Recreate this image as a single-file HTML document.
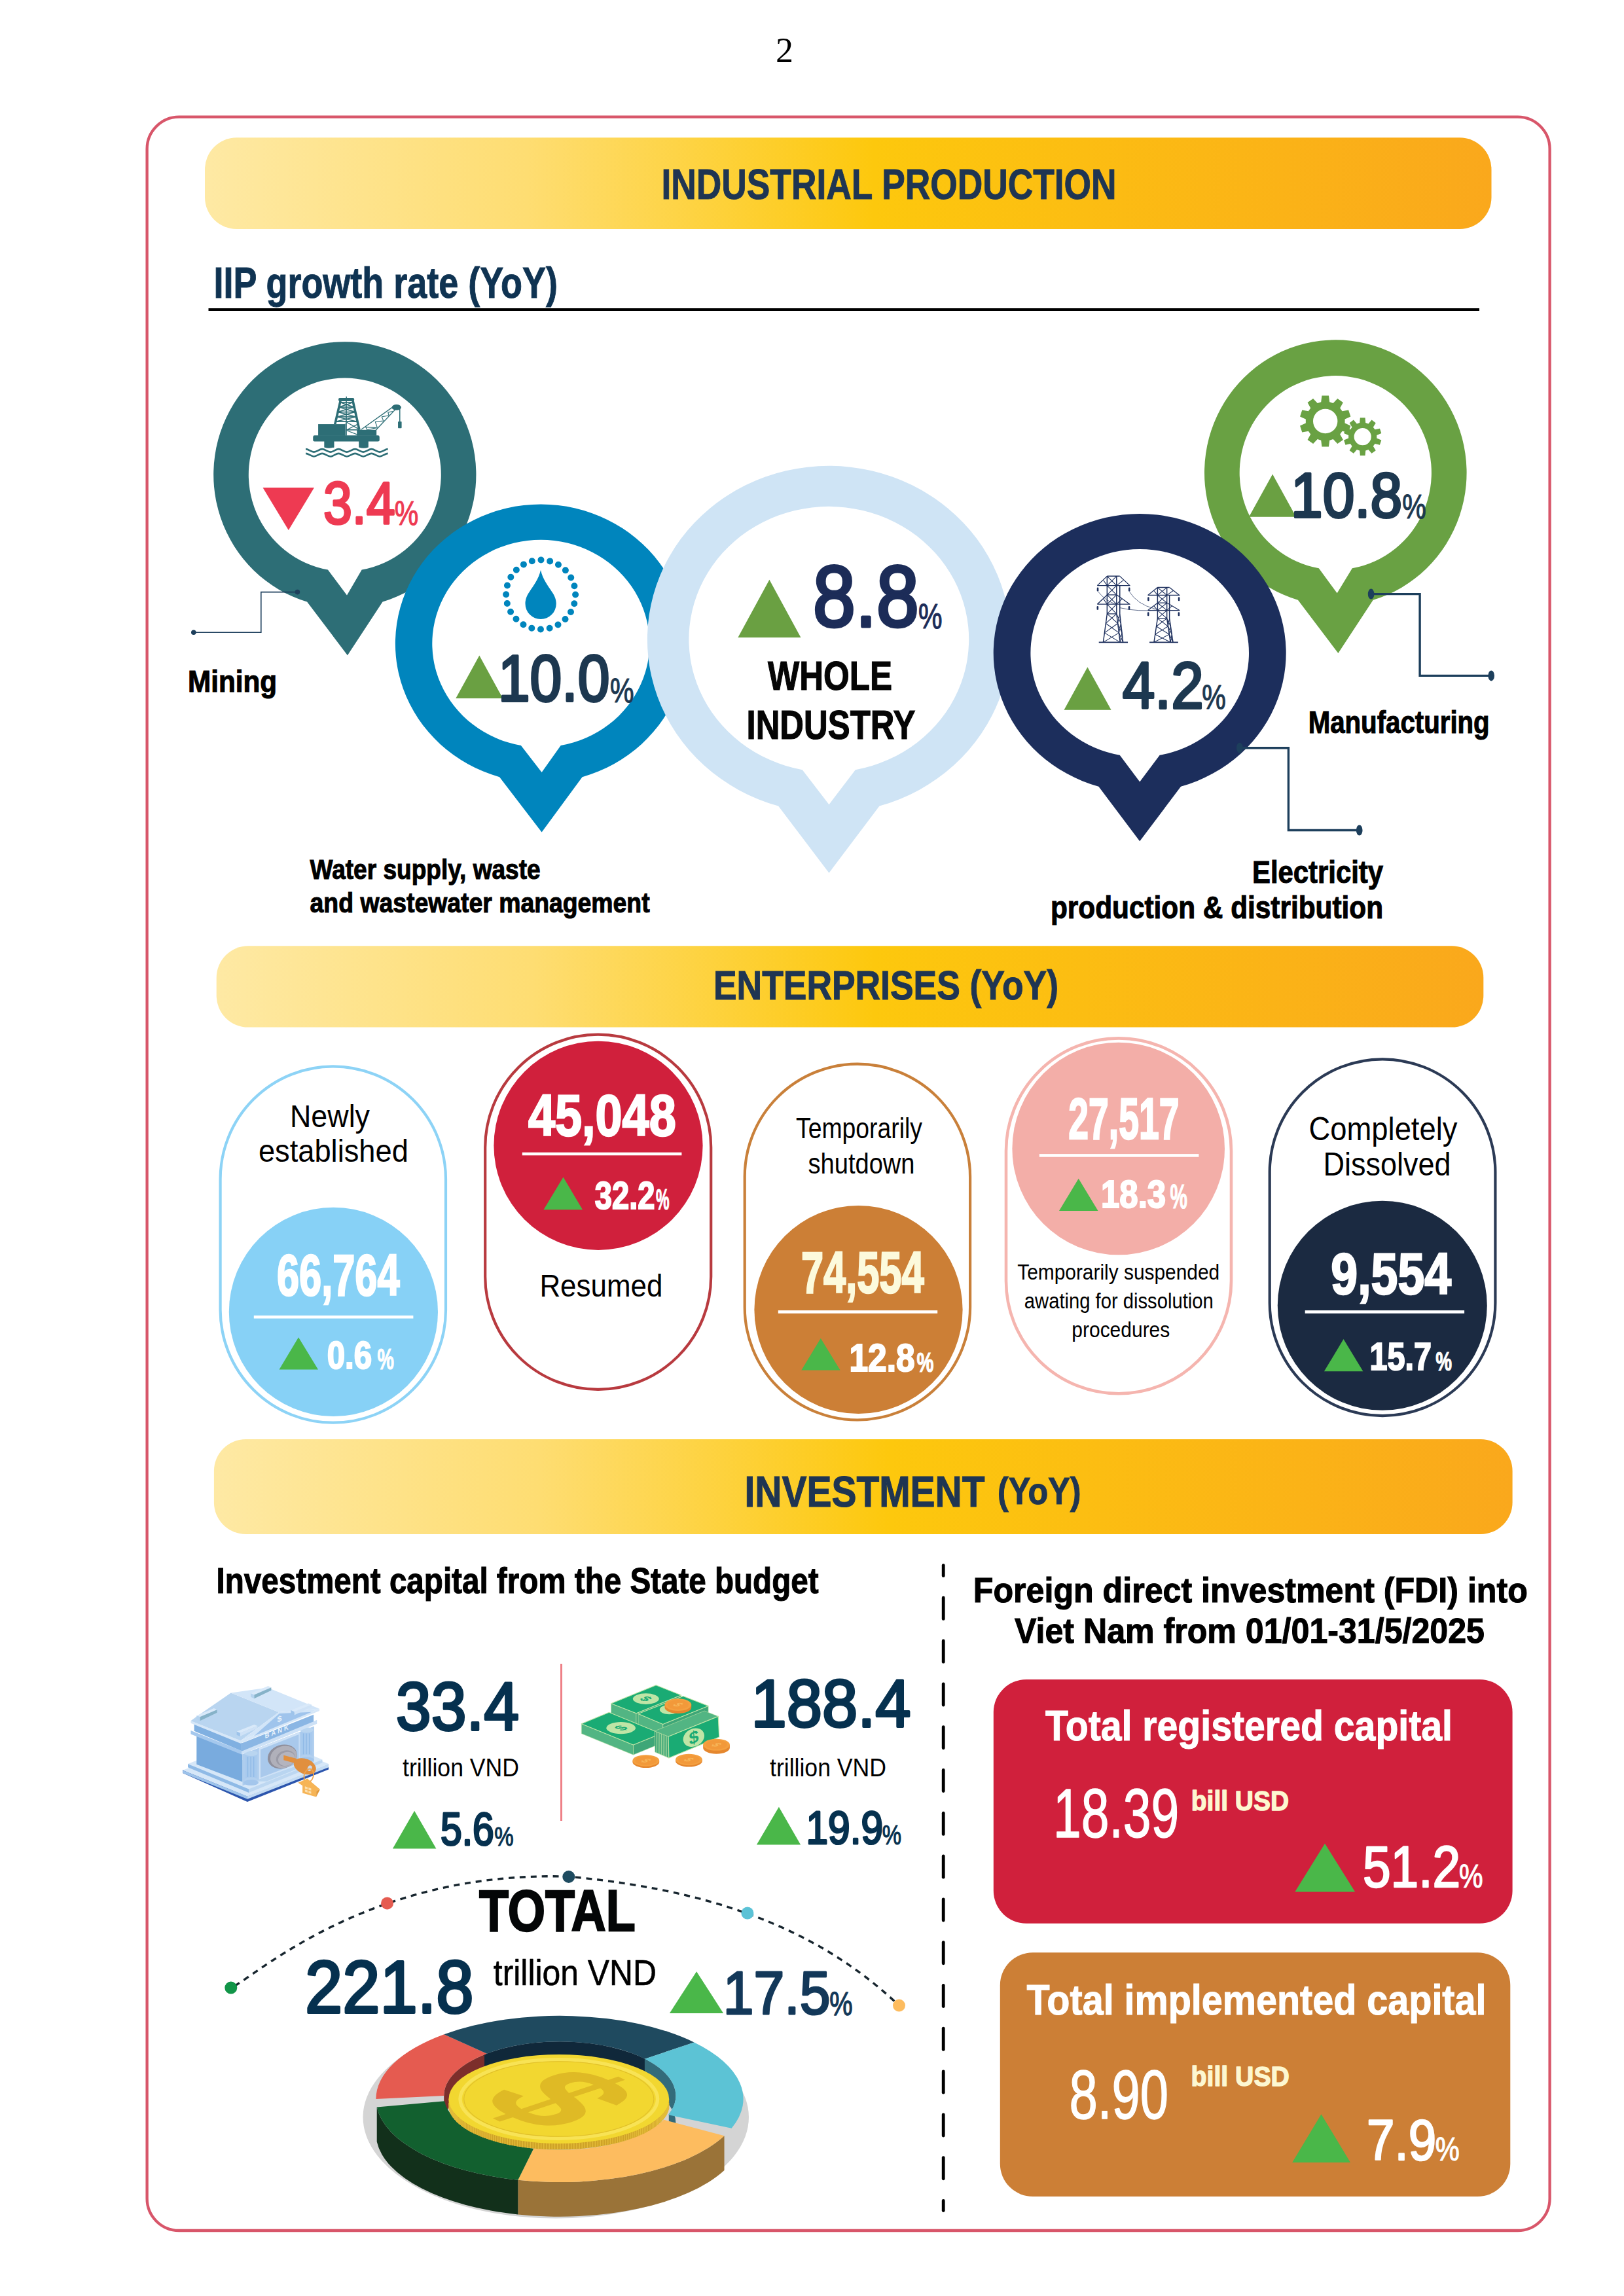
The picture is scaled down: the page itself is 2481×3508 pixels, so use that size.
<!DOCTYPE html>
<html lang="en">
<head>
<meta charset="utf-8">
<title>Industrial production, enterprises, investment</title>
<style>
html,body{margin:0;padding:0;background:#fff;}
body{width:2481px;height:3508px;overflow:hidden;}
svg{display:block;font-family:"Liberation Sans",sans-serif;}
.serif{font-family:"Liberation Serif",serif;}
</style>
</head>
<body>
<svg width="2481" height="3508" viewBox="0 0 2481 3508">
<defs>
<linearGradient id="bg" x1="0" y1="0" x2="1" y2="0">
<stop offset="0" stop-color="#fee9a4"/>
<stop offset="0.25" stop-color="#fedd72"/>
<stop offset="0.52" stop-color="#fdc80d"/>
<stop offset="1" stop-color="#faa81c"/>
</linearGradient>
</defs>
<text class="serif" x="1198.5" y="94.8" font-size="54" text-anchor="middle" fill="#000">2</text>
<rect x="224.6" y="178.6" width="2143" height="3229.4" rx="49" ry="49" fill="none" stroke="#d8566a" stroke-width="4.3"/>
<rect x="313" y="210.3" width="1965.5" height="139.6" rx="48.5" ry="48.5" fill="url(#bg)"/>
<text x="1358.0" y="304.2" font-size="65" font-weight="bold" fill="#1f3552" text-anchor="middle" textLength="695.0" lengthAdjust="spacingAndGlyphs" stroke="#1f3552" stroke-width="1">INDUSTRIAL PRODUCTION</text>
<text x="326.5" y="455.3" font-size="66" font-weight="bold" fill="#0f3352" text-anchor="start" textLength="525.5" lengthAdjust="spacingAndGlyphs" stroke="#0f3352" stroke-width="1">IIP growth rate (YoY)</text>
<rect x="318.5" y="471" width="1941.5" height="4" fill="#000"/>
<path d="M469.1,919.6 A200.6,203.0 0 1 1 584.5,919.6 L530.9,1001.2 Z" fill="#2d6e76"/>
<path d="M500.9,870.5 A147.0,147.6 0 1 1 552.7,870.5 L530.0,909.5 Z" fill="#fff"/>
<path d="M1982.9,916.8 A200.3,203.0 0 1 1 2097.7,916.8 L2044.4,998.1 Z" fill="#69a143"/>
<path d="M2014.8,868.2 A146.6,148.2 0 1 1 2065.8,868.2 L2042.7,906.3 Z" fill="#fff"/>
<path d="M763.1,1187.2 A222.4,212.7 0 1 1 889.5,1187.2 L827.6,1271.4 Z" fill="#0085bd"/>
<path d="M795.9,1139.1 A166.0,158.5 0 1 1 856.7,1139.1 L827.6,1180.0 Z" fill="#fff"/>
<path d="M1189.1,1231.5 A277.4,265.1 0 1 1 1343.5,1231.5 L1266.5,1333.7 Z" fill="#cfe4f5"/>
<path d="M1225.8,1176.2 A213.9,203.0 0 1 1 1306.8,1176.2 L1266.5,1229.2 Z" fill="#fff"/>
<path d="M1678.4,1201.7 A223.5,212.6 0 1 1 1804.0,1201.7 L1741.2,1285.3 Z" fill="#1c2e5c"/>
<path d="M1710.7,1153.7 A166.8,158.7 0 1 1 1771.7,1153.7 L1741.2,1194.4 Z" fill="#fff"/>
<polygon points="401.5,745.1 480.0,745.1 440.8,810.1" fill="#ee3a52"/>
<text x="493.9" y="800.3" font-size="91.0" font-weight="normal" fill="#ee3a52" textLength="109.7" lengthAdjust="spacingAndGlyphs" stroke="#ee3a52" stroke-width="3.6" stroke-linejoin="round">3.4</text>
<text x="602.7" y="802.3" font-size="51.4" font-weight="normal" fill="#ee3a52" textLength="36.5" lengthAdjust="spacingAndGlyphs" stroke="#ee3a52" stroke-width="1.2" stroke-linejoin="round">%</text>
<polygon points="696.3,1067.1 768.2,1067.1 732.3,1001.6" fill="#6aa042"/>
<text x="760.9" y="1070.9" font-size="99.3" font-weight="normal" fill="#1d3850" textLength="170.5" lengthAdjust="spacingAndGlyphs" stroke="#1d3850" stroke-width="4" stroke-linejoin="round">10.0</text>
<text x="931.9" y="1072.9" font-size="51.9" font-weight="normal" fill="#1d3850" textLength="36.5" lengthAdjust="spacingAndGlyphs" stroke="#1d3850" stroke-width="1.2" stroke-linejoin="round">%</text>
<polygon points="1127.4,974.1 1223.4,974.1 1175.4,885.8" fill="#6aa042"/>
<text x="1242.0" y="957.4" font-size="132.0" font-weight="normal" fill="#1c2c58" textLength="161.8" lengthAdjust="spacingAndGlyphs" stroke="#1c2c58" stroke-width="5" stroke-linejoin="round">8.8</text>
<text x="1403.1" y="959.8" font-size="52.8" font-weight="normal" fill="#1c2c58" textLength="36.5" lengthAdjust="spacingAndGlyphs" stroke="#1c2c58" stroke-width="1.2" stroke-linejoin="round">%</text>
<text x="1268.0" y="1054.2" font-size="63" font-weight="bold" fill="#050505" text-anchor="middle" textLength="190.0" lengthAdjust="spacingAndGlyphs" stroke="#050505" stroke-width="1.2">WHOLE</text>
<text x="1269.5" y="1129.2" font-size="63" font-weight="bold" fill="#050505" text-anchor="middle" textLength="258.0" lengthAdjust="spacingAndGlyphs" stroke="#050505" stroke-width="1.2">INDUSTRY</text>
<polygon points="1625.5,1084.8 1697.6,1084.8 1661.4,1019.3" fill="#6aa042"/>
<text x="1714.8" y="1082.1" font-size="100.6" font-weight="normal" fill="#1d3850" textLength="123.9" lengthAdjust="spacingAndGlyphs" stroke="#1d3850" stroke-width="4" stroke-linejoin="round">4.2</text>
<text x="1836.2" y="1083.1" font-size="51.4" font-weight="normal" fill="#1d3850" textLength="36.5" lengthAdjust="spacingAndGlyphs" stroke="#1d3850" stroke-width="1.2" stroke-linejoin="round">%</text>
<polygon points="1908.0,789.8 1980.0,789.8 1944.1,724.6" fill="#6aa042"/>
<text x="1972.1" y="790.4" font-size="97.1" font-weight="normal" fill="#1d3850" textLength="170.1" lengthAdjust="spacingAndGlyphs" stroke="#1d3850" stroke-width="4" stroke-linejoin="round">10.8</text>
<text x="2142.2" y="792.4" font-size="52.0" font-weight="normal" fill="#1d3850" textLength="36.5" lengthAdjust="spacingAndGlyphs" stroke="#1d3850" stroke-width="1.2" stroke-linejoin="round">%</text>
<polyline points="454.4,904.6 398.8,904.6 398.8,966.2 295.8,966.2" fill="none" stroke="#1d3f5c" stroke-width="1.6"/>
<circle cx="454.4" cy="904.6" r="3.8" fill="#1d3f5c"/><circle cx="295.8" cy="966.2" r="3.8" fill="#1d3f5c"/>
<polyline points="1893.8,1142.7 1968.4,1142.7 1968.4,1268.5 2076.7,1268.5" fill="none" stroke="#1d3f5c" stroke-width="3.4"/>
<ellipse cx="1893.8" cy="1142.7" rx="4.8" ry="8" fill="#1d3f5c"/><ellipse cx="2076.7" cy="1268.5" rx="4.8" ry="8" fill="#1d3f5c"/>
<polyline points="2094.6,907.6 2169.1,907.6 2169.1,1032.4 2278.2,1032.4" fill="none" stroke="#1d3f5c" stroke-width="3.4"/>
<ellipse cx="2094.6" cy="907.6" rx="4.8" ry="8" fill="#1d3f5c"/><ellipse cx="2278.2" cy="1032.4" rx="4.8" ry="8" fill="#1d3f5c"/>
<text x="287.0" y="1057.3" font-size="46" font-weight="bold" fill="#000" text-anchor="start" textLength="136.0" lengthAdjust="spacingAndGlyphs" stroke="#000" stroke-width="1.1">Mining</text>
<text x="1998.7" y="1120.0" font-size="48.5" font-weight="bold" fill="#000" text-anchor="start" textLength="277.0" lengthAdjust="spacingAndGlyphs" stroke="#000" stroke-width="1.1">Manufacturing</text>
<text x="473.6" y="1343.0" font-size="43" font-weight="bold" fill="#000" text-anchor="start" textLength="352.0" lengthAdjust="spacingAndGlyphs" stroke="#000" stroke-width="1.1">Water supply, waste</text>
<text x="473.6" y="1393.5" font-size="43" font-weight="bold" fill="#000" text-anchor="start" textLength="519.0" lengthAdjust="spacingAndGlyphs" stroke="#000" stroke-width="1.1">and wastewater management</text>
<text x="2113.0" y="1349.0" font-size="48.5" font-weight="bold" fill="#000" text-anchor="end" textLength="200.0" lengthAdjust="spacingAndGlyphs" stroke="#000" stroke-width="1.1">Electricity</text>
<text x="2113.0" y="1402.8" font-size="48.5" font-weight="bold" fill="#000" text-anchor="end" textLength="508.0" lengthAdjust="spacingAndGlyphs" stroke="#000" stroke-width="1.1">production &amp; distribution</text>
<rect x="330.7" y="1445.2" width="1935.6" height="124.4" rx="48.5" ry="48.5" fill="url(#bg)"/>
<text x="1353.5" y="1527.3" font-size="63.5" font-weight="bold" fill="#1f3552" text-anchor="middle" textLength="527.0" lengthAdjust="spacingAndGlyphs" stroke="#1f3552" stroke-width="1.1">ENTERPRISES (YoY)</text>
<rect x="336.6" y="1629.4" width="344.4" height="544.3" rx="172.2" ry="172.2" fill="#fff" stroke="#8dd3f6" stroke-width="4.2"/>
<circle cx="509.4" cy="2004.4" r="159.6" fill="#87d1f6"/>
<text x="504.0" y="1722.0" font-size="49" font-weight="normal" fill="#000" text-anchor="middle" textLength="122.0" lengthAdjust="spacingAndGlyphs" >Newly</text>
<text x="509.4" y="1775.0" font-size="49" font-weight="normal" fill="#000" text-anchor="middle" textLength="229.0" lengthAdjust="spacingAndGlyphs" >established</text>
<text x="422.9" y="1978.6" font-size="88.2" font-weight="bold" fill="#fff" textLength="187.7" lengthAdjust="spacingAndGlyphs" stroke="#fff" stroke-width="2.6" stroke-linejoin="miter">66,764</text>
<rect x="387.8" y="2009.9" width="243.6" height="4.6" fill="#fff"/>
<polygon points="426.5,2092.6 486.0,2092.6 456.0,2043.3" fill="#4ab749"/>
<text x="499.7" y="2091.0" font-size="59.1" font-weight="bold" fill="#fff" textLength="68.5" lengthAdjust="spacingAndGlyphs" stroke="#fff" stroke-width="2.2" stroke-linejoin="miter">0.6</text>
<text x="576.6" y="2092.0" font-size="43.5" font-weight="bold" fill="#fff" textLength="25.4" lengthAdjust="spacingAndGlyphs" stroke="#fff" stroke-width="1.2" stroke-linejoin="miter">%</text>
<rect x="741.2" y="1580.7" width="345.0" height="542.2" rx="172.5" ry="172.5" fill="#fff" stroke="#b83a3f" stroke-width="4.2"/>
<circle cx="914.0" cy="1750.3" r="159.6" fill="#d0203c"/>
<text x="806.9" y="1734.6" font-size="89.2" font-weight="bold" fill="#fff" textLength="225.8" lengthAdjust="spacingAndGlyphs" stroke="#fff" stroke-width="2.6" stroke-linejoin="miter">45,048</text>
<rect x="797.8" y="1760.7" width="243.6" height="4.6" fill="#fff"/>
<polygon points="830.5,1848.3 890.0,1848.3 860.5,1798.6" fill="#4ab749"/>
<text x="908.8" y="1847.3" font-size="59.1" font-weight="bold" fill="#fff" textLength="91.8" lengthAdjust="spacingAndGlyphs" stroke="#fff" stroke-width="2.2" stroke-linejoin="miter">32.2</text>
<text x="1002.0" y="1848.3" font-size="43.5" font-weight="bold" fill="#fff" textLength="20.6" lengthAdjust="spacingAndGlyphs" stroke="#fff" stroke-width="1.2" stroke-linejoin="miter">%</text>
<text x="918.4" y="1981.0" font-size="49" font-weight="normal" fill="#000" text-anchor="middle" textLength="188.0" lengthAdjust="spacingAndGlyphs" >Resumed</text>
<rect x="1137.7" y="1625.7" width="344.4" height="543.8" rx="172.2" ry="172.2" fill="#fff" stroke="#c9803a" stroke-width="4.2"/>
<circle cx="1311.5" cy="2001.0" r="159.1" fill="#cc7f36"/>
<text x="1312.5" y="1739.3" font-size="44" font-weight="normal" fill="#000" text-anchor="middle" textLength="193.0" lengthAdjust="spacingAndGlyphs" >Temporarily</text>
<text x="1316.0" y="1793.2" font-size="44" font-weight="normal" fill="#000" text-anchor="middle" textLength="163.0" lengthAdjust="spacingAndGlyphs" >shutdown</text>
<text x="1223.9" y="1975.3" font-size="89.2" font-weight="bold" fill="#fcfadc" textLength="187.7" lengthAdjust="spacingAndGlyphs" stroke="#fcfadc" stroke-width="2.6" stroke-linejoin="miter">74,554</text>
<rect x="1188.8" y="2002.1" width="243.4" height="4.6" fill="#fff"/>
<polygon points="1224.3,2093.5 1283.6,2093.5 1253.8,2044.7" fill="#4ab749"/>
<text x="1297.4" y="2095.3" font-size="59.7" font-weight="bold" fill="#fff" textLength="100.2" lengthAdjust="spacingAndGlyphs" stroke="#fff" stroke-width="2.2" stroke-linejoin="miter">12.8</text>
<text x="1400.6" y="2096.3" font-size="43.0" font-weight="bold" fill="#fff" textLength="25.9" lengthAdjust="spacingAndGlyphs" stroke="#fff" stroke-width="1.2" stroke-linejoin="miter">%</text>
<rect x="1537.0" y="1586.4" width="344.0" height="542.8" rx="172.0" ry="172.0" fill="#fff" stroke="#f5b5af" stroke-width="4.6"/>
<circle cx="1708.7" cy="1755.0" r="162.3" fill="#f3aea8"/>
<text x="1632.2" y="1739.6" font-size="88.7" font-weight="bold" fill="#fff" textLength="169.4" lengthAdjust="spacingAndGlyphs" stroke="#fff" stroke-width="2.6" stroke-linejoin="miter">27,517</text>
<rect x="1587.8" y="1763.1" width="243.6" height="4.6" fill="#fff"/>
<polygon points="1618.0,1850.0 1677.5,1850.0 1647.7,1800.7" fill="#4ab749"/>
<text x="1682.0" y="1844.7" font-size="59.1" font-weight="bold" fill="#fff" textLength="99.2" lengthAdjust="spacingAndGlyphs" stroke="#fff" stroke-width="2.2" stroke-linejoin="miter">18.3</text>
<text x="1787.4" y="1845.7" font-size="51.4" font-weight="bold" fill="#fff" textLength="26.4" lengthAdjust="spacingAndGlyphs" stroke="#fff" stroke-width="1.2" stroke-linejoin="miter">%</text>
<text x="1708.7" y="1955.4" font-size="33.5" font-weight="normal" fill="#000" text-anchor="middle" textLength="309.0" lengthAdjust="spacingAndGlyphs" >Temporarily suspended</text>
<text x="1709.3" y="1999.4" font-size="33.5" font-weight="normal" fill="#000" text-anchor="middle" textLength="289.0" lengthAdjust="spacingAndGlyphs" >awating for dissolution</text>
<text x="1712.3" y="2042.8" font-size="33.5" font-weight="normal" fill="#000" text-anchor="middle" textLength="150.0" lengthAdjust="spacingAndGlyphs" >procedures</text>
<rect x="1939.7" y="1618.3" width="344.7" height="544.8" rx="172.3" ry="172.3" fill="#fff" stroke="#2b3a55" stroke-width="4.2"/>
<circle cx="2111.8" cy="1994.7" r="160.0" fill="#1b2a41"/>
<text x="2113.0" y="1742.1" font-size="50" font-weight="normal" fill="#000" text-anchor="middle" textLength="227.0" lengthAdjust="spacingAndGlyphs" >Completely</text>
<text x="2119.0" y="1796.1" font-size="50" font-weight="normal" fill="#000" text-anchor="middle" textLength="195.0" lengthAdjust="spacingAndGlyphs" >Dissolved</text>
<text x="2033.3" y="1976.7" font-size="88.7" font-weight="bold" fill="#fff" textLength="183.8" lengthAdjust="spacingAndGlyphs" stroke="#fff" stroke-width="2.6" stroke-linejoin="miter">9,554</text>
<rect x="1993.7" y="2002.1" width="243.4" height="4.6" fill="#fff"/>
<polygon points="2022.9,2095.3 2082.4,2095.3 2052.5,2046.1" fill="#4ab749"/>
<text x="2092.4" y="2093.3" font-size="59.8" font-weight="bold" fill="#fff" textLength="94.5" lengthAdjust="spacingAndGlyphs" stroke="#fff" stroke-width="2.2" stroke-linejoin="miter">15.7</text>
<text x="2193.3" y="2094.3" font-size="41.5" font-weight="bold" fill="#fff" textLength="24.8" lengthAdjust="spacingAndGlyphs" stroke="#fff" stroke-width="1.2" stroke-linejoin="miter">%</text>
<rect x="326.9" y="2199.1" width="1983.7" height="144.9" rx="48.5" ry="48.5" fill="url(#bg)"/>
<text x="1137.5" y="2302.3" font-size="66" font-weight="bold" fill="#1f3552" text-anchor="start" textLength="367.0" lengthAdjust="spacingAndGlyphs" stroke="#1f3552" stroke-width="1.1">INVESTMENT</text>
<text x="1524.0" y="2297.5" font-size="56.5" font-weight="bold" fill="#1f3552" text-anchor="start" textLength="127.5" lengthAdjust="spacingAndGlyphs" stroke="#1f3552" stroke-width="1.1">(YoY)</text>
<text x="330.5" y="2433.5" font-size="56" font-weight="bold" fill="#000" text-anchor="start" textLength="920.0" lengthAdjust="spacingAndGlyphs" stroke="#000" stroke-width="1.1">Investment capital from the State budget</text>
<text x="604.8" y="2642.9" font-size="104.2" font-weight="normal" fill="#06314f" textLength="188.4" lengthAdjust="spacingAndGlyphs" stroke="#06314f" stroke-width="3.8" stroke-linejoin="round">33.4</text>
<text x="615.0" y="2714.3" font-size="39" font-weight="normal" fill="#000" text-anchor="start" textLength="178.0" lengthAdjust="spacingAndGlyphs" >trillion VND</text>
<polygon points="599.9,2824.4 666.4,2824.4 633.1,2766.7" fill="#4ab749"/>
<text x="673.0" y="2818.9" font-size="71.0" font-weight="normal" fill="#06314f" textLength="81.8" lengthAdjust="spacingAndGlyphs" stroke="#06314f" stroke-width="3.2" stroke-linejoin="round">5.6</text>
<text x="755.2" y="2819.9" font-size="41.5" font-weight="normal" fill="#06314f" textLength="29.4" lengthAdjust="spacingAndGlyphs" stroke="#06314f" stroke-width="1.2" stroke-linejoin="round">%</text>
<rect x="856" y="2542" width="3" height="240" fill="#ee8087"/>
<text x="1147.6" y="2637.9" font-size="102.0" font-weight="normal" fill="#06314f" textLength="244.0" lengthAdjust="spacingAndGlyphs" stroke="#06314f" stroke-width="3.8" stroke-linejoin="round">188.4</text>
<text x="1176.0" y="2714.3" font-size="39" font-weight="normal" fill="#000" text-anchor="start" textLength="178.0" lengthAdjust="spacingAndGlyphs" >trillion VND</text>
<polygon points="1155.9,2818.5 1223.1,2818.5 1189.9,2760.8" fill="#4ab749"/>
<text x="1231.5" y="2816.9" font-size="70.8" font-weight="normal" fill="#06314f" textLength="117.5" lengthAdjust="spacingAndGlyphs" stroke="#06314f" stroke-width="3.2" stroke-linejoin="round">19.9</text>
<text x="1347.8" y="2817.9" font-size="42.1" font-weight="normal" fill="#06314f" textLength="29.3" lengthAdjust="spacingAndGlyphs" stroke="#06314f" stroke-width="1.2" stroke-linejoin="round">%</text>
<line x1="1441.2" y1="2391.6" x2="1441.2" y2="2407.7" stroke="#000" stroke-width="4.8" stroke-linecap="round"/>
<line x1="1441.2" y1="2441.2" x2="1441.2" y2="2473.4" stroke="#000" stroke-width="4.8" stroke-linecap="round"/>
<line x1="1441.2" y1="2507.0" x2="1441.2" y2="2539.2" stroke="#000" stroke-width="4.8" stroke-linecap="round"/>
<line x1="1441.2" y1="2572.8" x2="1441.2" y2="2605.0" stroke="#000" stroke-width="4.8" stroke-linecap="round"/>
<line x1="1441.2" y1="2638.6" x2="1441.2" y2="2670.8" stroke="#000" stroke-width="4.8" stroke-linecap="round"/>
<line x1="1441.2" y1="2704.4" x2="1441.2" y2="2736.6" stroke="#000" stroke-width="4.8" stroke-linecap="round"/>
<line x1="1441.2" y1="2770.2" x2="1441.2" y2="2802.4" stroke="#000" stroke-width="4.8" stroke-linecap="round"/>
<line x1="1441.2" y1="2836.0" x2="1441.2" y2="2868.2" stroke="#000" stroke-width="4.8" stroke-linecap="round"/>
<line x1="1441.2" y1="2901.8" x2="1441.2" y2="2934.0" stroke="#000" stroke-width="4.8" stroke-linecap="round"/>
<line x1="1441.2" y1="2967.6" x2="1441.2" y2="2999.8" stroke="#000" stroke-width="4.8" stroke-linecap="round"/>
<line x1="1441.2" y1="3033.4" x2="1441.2" y2="3065.6" stroke="#000" stroke-width="4.8" stroke-linecap="round"/>
<line x1="1441.2" y1="3099.2" x2="1441.2" y2="3131.4" stroke="#000" stroke-width="4.8" stroke-linecap="round"/>
<line x1="1441.2" y1="3165.0" x2="1441.2" y2="3197.2" stroke="#000" stroke-width="4.8" stroke-linecap="round"/>
<line x1="1441.2" y1="3230.8" x2="1441.2" y2="3263.0" stroke="#000" stroke-width="4.8" stroke-linecap="round"/>
<line x1="1441.2" y1="3296.6" x2="1441.2" y2="3328.8" stroke="#000" stroke-width="4.8" stroke-linecap="round"/>
<line x1="1441.2" y1="3362.4" x2="1441.2" y2="3377.6" stroke="#000" stroke-width="4.8" stroke-linecap="round"/>
<path d="M352.8,3037.1 C385.3,3024.6 558.8,2857.2 868.8,2867.2 C1132.2,2891.4 1274.6,2970.8 1373.5,3064.1" fill="none" stroke="#17252e" stroke-width="3.4" stroke-dasharray="9 7.9" stroke-dashoffset="-6"/>
<circle cx="352.8" cy="3037.1" r="9.5" fill="#119548"/>
<circle cx="591.5" cy="2907.9" r="9.5" fill="#e55b50"/>
<circle cx="868.8" cy="2867.4" r="9.5" fill="#1e4b60"/>
<circle cx="1141.9" cy="2923" r="9.5" fill="#5bc2d6"/>
<circle cx="1373.5" cy="3064.1" r="9.5" fill="#fdbc5f"/>
<text x="732.0" y="2949.7" font-size="88.8" font-weight="bold" fill="#040607" textLength="238.9" lengthAdjust="spacingAndGlyphs" stroke="#040607" stroke-width="2.4" stroke-linejoin="miter">TOTAL</text>
<text x="466.0" y="3074.5" font-size="113.6" font-weight="normal" fill="#06314f" textLength="257.5" lengthAdjust="spacingAndGlyphs" stroke="#06314f" stroke-width="4.2" stroke-linejoin="round">221.8</text>
<text x="753.8" y="3033.4" font-size="55.8" font-weight="normal" fill="#000" textLength="249.2" lengthAdjust="spacingAndGlyphs" stroke="#000" stroke-width="0.6" stroke-linejoin="round">trillion VND</text>
<polygon points="1022.9,3075.9 1105.1,3075.9 1064.1,3012.2" fill="#4ab749"/>
<text x="1104.8" y="3077.1" font-size="93.1" font-weight="normal" fill="#133859" textLength="163.7" lengthAdjust="spacingAndGlyphs" stroke="#133859" stroke-width="3.2" stroke-linejoin="round">17.5</text>
<text x="1267.2" y="3079.1" font-size="49.1" font-weight="normal" fill="#133859" textLength="35.3" lengthAdjust="spacingAndGlyphs" stroke="#133859" stroke-width="1.4" stroke-linejoin="round">%</text>
<text x="1910.3" y="2447.8" font-size="53.5" font-weight="bold" fill="#000" text-anchor="middle" textLength="847.0" lengthAdjust="spacingAndGlyphs" stroke="#000" stroke-width="1.1">Foreign direct investment (FDI) into</text>
<text x="1909.0" y="2510.3" font-size="53.5" font-weight="bold" fill="#000" text-anchor="middle" textLength="718.0" lengthAdjust="spacingAndGlyphs" stroke="#000" stroke-width="1.1">Viet Nam from 01/01-31/5/2025</text>
<rect x="1517.8" y="2566" width="792.8" height="372.8" rx="50" ry="50" fill="#d0203c"/>
<text x="1908.0" y="2659.3" font-size="65" font-weight="bold" fill="#fff" text-anchor="middle" textLength="622.0" lengthAdjust="spacingAndGlyphs" stroke="#fff" stroke-width="1.1">Total registered capital</text>
<text x="1609.0" y="2807.0" font-size="106.3" font-weight="normal" fill="#fff" textLength="192.3" lengthAdjust="spacingAndGlyphs" stroke="#fff" stroke-width="1.5" stroke-linejoin="round">18.39</text>
<text x="1819.8" y="2765.8" font-size="42.3" font-weight="bold" fill="#fdf7d0" textLength="149.3" lengthAdjust="spacingAndGlyphs" stroke="#fdf7d0" stroke-width="1.4" stroke-linejoin="round">bill USD</text>
<polygon points="1978.3,2890.4 2070.1,2890.4 2024.0,2816.7" fill="#4ab749"/>
<text x="2082.0" y="2882.9" font-size="88.8" font-weight="normal" fill="#fff" textLength="149.0" lengthAdjust="spacingAndGlyphs" stroke="#fff" stroke-width="2.6" stroke-linejoin="round">51.2</text>
<text x="2228.9" y="2883.9" font-size="49.8" font-weight="normal" fill="#fff" textLength="36.5" lengthAdjust="spacingAndGlyphs" stroke="#fff" stroke-width="1.2" stroke-linejoin="round">%</text>
<rect x="1527.8" y="2983.2" width="779.5" height="372.8" rx="50" ry="50" fill="#cc7f36"/>
<text x="1919.5" y="3078.4" font-size="65" font-weight="bold" fill="#fff" text-anchor="middle" textLength="702.0" lengthAdjust="spacingAndGlyphs" stroke="#fff" stroke-width="1.1">Total implemented capital</text>
<text x="1633.5" y="3237.0" font-size="106.3" font-weight="normal" fill="#fff" textLength="151.6" lengthAdjust="spacingAndGlyphs" stroke="#fff" stroke-width="1.5" stroke-linejoin="round">8.90</text>
<text x="1819.6" y="3187.0" font-size="41.8" font-weight="bold" fill="#fdf7d0" textLength="150.3" lengthAdjust="spacingAndGlyphs" stroke="#fdf7d0" stroke-width="1.4" stroke-linejoin="round">bill USD</text>
<polygon points="1974.2,3304.0 2063.0,3304.0 2018.5,3230.2" fill="#4ab749"/>
<text x="2088.1" y="3300.0" font-size="87.3" font-weight="normal" fill="#fff" textLength="106.1" lengthAdjust="spacingAndGlyphs" stroke="#fff" stroke-width="2.6" stroke-linejoin="round">7.9</text>
<text x="2192.7" y="3301.0" font-size="50.6" font-weight="normal" fill="#fff" textLength="37.0" lengthAdjust="spacingAndGlyphs" stroke="#fff" stroke-width="1.2" stroke-linejoin="round">%</text>
<g transform="translate(455,595) scale(0.10468)">
<rect x="222" y="672" width="970" height="88" rx="22" fill="#2d6e76"/>
<path d="M385,755 H530 V845 Q457,870 385,845 Z M890,755 H1030 V845 Q960,870 890,845 Z" fill="#2d6e76"/>
<rect x="297" y="507" width="393" height="170" fill="#2d6e76"/>
<rect x="862" y="590" width="286" height="86" fill="#2d6e76"/>
<rect x="593" y="125" width="230" height="47" rx="18" fill="#2d6e76"/>
<rect x="702" y="103" width="14" height="30" fill="#2d6e76"/>
<polygon points="605,165 640,165 560,507 525,507" fill="#2d6e76" />
<polygon points="785,165 820,165 915,590 880,590" fill="#2d6e76" />
<rect x="699" y="165" width="16" height="510" fill="#2d6e76"/>
<rect x="686" y="500" width="8" height="175" fill="#2d6e76"/>
<line x1="618" y1="190" x2="805" y2="190" stroke="#2d6e76" stroke-width="16" />
<line x1="600" y1="258" x2="822" y2="258" stroke="#2d6e76" stroke-width="16" />
<line x1="583" y1="330" x2="838" y2="330" stroke="#2d6e76" stroke-width="16" />
<line x1="566" y1="400" x2="852" y2="400" stroke="#2d6e76" stroke-width="16" />
<line x1="548" y1="470" x2="868" y2="470" stroke="#2d6e76" stroke-width="16" />
<line x1="700" y1="590" x2="895" y2="590" stroke="#2d6e76" stroke-width="16" />
<line x1="618" y1="190" x2="822" y2="258" stroke="#2d6e76" stroke-width="14" />
<line x1="805" y1="190" x2="600" y2="258" stroke="#2d6e76" stroke-width="14" />
<line x1="600" y1="258" x2="838" y2="330" stroke="#2d6e76" stroke-width="14" />
<line x1="822" y1="258" x2="583" y2="330" stroke="#2d6e76" stroke-width="14" />
<line x1="583" y1="330" x2="852" y2="400" stroke="#2d6e76" stroke-width="14" />
<line x1="838" y1="330" x2="566" y2="400" stroke="#2d6e76" stroke-width="14" />
<line x1="566" y1="400" x2="868" y2="470" stroke="#2d6e76" stroke-width="14" />
<line x1="852" y1="400" x2="548" y2="470" stroke="#2d6e76" stroke-width="14" />
<line x1="715" y1="480" x2="890" y2="580" stroke="#2d6e76" stroke-width="13" />
<line x1="715" y1="590" x2="870" y2="510" stroke="#2d6e76" stroke-width="13" />
<line x1="715" y1="600" x2="870" y2="660" stroke="#2d6e76" stroke-width="11" />
<line x1="925" y1="585" x2="1395" y2="250" stroke="#2d6e76" stroke-width="13" />
<line x1="1140" y1="592" x2="1425" y2="290" stroke="#2d6e76" stroke-width="13" />
<line x1="990" y1="545" x2="1010" y2="590" stroke="#2d6e76" stroke-width="11" />
<line x1="1010" y1="590" x2="1150" y2="560" stroke="#2d6e76" stroke-width="11" />
<line x1="1130" y1="470" x2="1160" y2="560" stroke="#2d6e76" stroke-width="11" />
<line x1="1130" y1="470" x2="1250" y2="460" stroke="#2d6e76" stroke-width="11" />
<line x1="1225" y1="400" x2="1250" y2="460" stroke="#2d6e76" stroke-width="11" />
<line x1="1225" y1="400" x2="1330" y2="380" stroke="#2d6e76" stroke-width="11" />
<line x1="1315" y1="335" x2="1330" y2="380" stroke="#2d6e76" stroke-width="11" />
<line x1="1315" y1="335" x2="1385" y2="320" stroke="#2d6e76" stroke-width="11" />
<line x1="985" y1="548" x2="1150" y2="560" stroke="#2d6e76" stroke-width="11" />
<ellipse cx="1440" cy="262" rx="68" ry="42" fill="#2d6e76"/>
<rect x="1481" y="285" width="14" height="190" fill="#2d6e76"/>
<rect x="1462" y="468" width="53" height="97" rx="8" fill="#2d6e76"/>
<path d="M115,870 C155,870 195,914 235,914 S315,870 355,870 S435,914 475,914 S555,870 595,870 S675,914 715,914 S795,870 835,870 S915,914 955,914 S1035,870 1075,870 S1155,914 1195,914 S1275,870 1315,870" fill="none" stroke="#2d6e76" stroke-width="25"/>
<path d="M115,935 C155,935 195,979 235,979 S315,935 355,935 S435,979 475,979 S555,935 595,935 S675,979 715,979 S795,935 835,935 S915,979 955,979 S1035,935 1075,935 S1155,979 1195,979 S1275,935 1315,935" fill="none" stroke="#2d6e76" stroke-width="25"/>
</g>
<circle cx="826.1" cy="908.5" r="53" fill="none" stroke="#0085bd" stroke-width="10" stroke-linecap="round" stroke-dasharray="0 13.875"/>
<path d="M826,871 C829,885 838,896 843,904 C848,911 849.7,917 849.7,922.4 A23.6,23.6 0 0 1 802.5,922.4 C802.5,917 804,911 809,904 C814,896 823,885 826,871 Z" fill="#0085bd"/>
<g transform="translate(1660,870) scale(0.09852)">
<line x1="190" y1="1130" x2="640" y2="1130" stroke="#1c2e5c" stroke-width="18" />
<path d="M318,105 V690 L258,1130 M465,105 V690 L520,1130 M515,250 V690 L565,1130 M318,105 H515" stroke="#1c2e5c" fill="none" stroke-linejoin="round" stroke-width="15"/>
<path d="M165,250 H670 L515,105 M165,250 L318,105 M165,540 H670 L470,395 M165,540 L318,395 M318,395 H465 M318,690 H465" stroke="#1c2e5c" fill="none" stroke-linejoin="round" stroke-width="13"/>
<path d="M318,105 L465,250 M465,105 L318,250 M318,250 L465,395 M465,250 L318,395 M318,395 L465,540 M465,395 L318,540 M318,540 L465,690 M465,540 L318,690 M261,167 L318,250 M572,167 L465,250 M261,457 L318,540 M547,457 L465,540 M318,690 L483,837 M465,690 L298,837 M465,690 L532,837 M515,690 L483,837 M298,837 L502,983 M483,837 L278,983 M483,837 L548,983 M532,837 L502,983 M278,983 L520,1130 M502,983 L258,1130 M502,983 L565,1130 M548,983 L520,1130 " stroke="#1c2e5c" fill="none" stroke-linejoin="round" stroke-width="10.5"/>
<rect x="160" y="280" width="26" height="60" rx="12" fill="#1c2e5c"/>
<rect x="649" y="280" width="26" height="60" rx="12" fill="#1c2e5c"/>
<rect x="158" y="568" width="26" height="60" rx="12" fill="#1c2e5c"/>
<rect x="647" y="568" width="26" height="60" rx="12" fill="#1c2e5c"/>
<line x1="975" y1="1130" x2="1420" y2="1130" stroke="#1c2e5c" stroke-width="18" />
<path d="M1100,280 V760 L1045,1130 M1245,280 V760 L1300,1130 M1285,400 V760 L1340,1130 M1100,280 H1285" stroke="#1c2e5c" fill="none" stroke-linejoin="round" stroke-width="15"/>
<path d="M950,400 H1440 L1285,280 M950,400 L1100,280 M950,635 H1440 L1250,520 M950,635 L1100,520 M1100,520 H1245 M1100,760 H1245" stroke="#1c2e5c" fill="none" stroke-linejoin="round" stroke-width="13"/>
<path d="M1100,280 L1245,400 M1245,280 L1100,400 M1100,400 L1245,520 M1245,400 L1100,520 M1100,520 L1245,635 M1245,520 L1100,635 M1100,635 L1245,760 M1245,635 L1100,760 M1045,330 L1100,400 M1342,330 L1245,400 M1045,567 L1100,635 M1322,567 L1245,635 M1100,760 L1263,883 M1245,760 L1082,883 M1245,760 L1303,883 M1285,760 L1263,883 M1082,883 L1282,1007 M1263,883 L1063,1007 M1263,883 L1322,1007 M1303,883 L1282,1007 M1063,1007 L1300,1130 M1282,1007 L1045,1130 M1282,1007 L1340,1130 M1322,1007 L1300,1130 " stroke="#1c2e5c" fill="none" stroke-linejoin="round" stroke-width="10.5"/>
<rect x="945" y="430" width="26" height="60" rx="12" fill="#1c2e5c"/>
<rect x="1419" y="430" width="26" height="60" rx="12" fill="#1c2e5c"/>
<rect x="943" y="663" width="26" height="60" rx="12" fill="#1c2e5c"/>
<rect x="1417" y="663" width="26" height="60" rx="12" fill="#1c2e5c"/>
<path d="M660,340 Q780,540 1060,612 M515,595 Q800,660 1100,628 M175,340 Q300,500 465,540" stroke="#1c2e5c" fill="none" stroke-width="7"/>
</g>
<path d="M2018.21,614.21 L2019.43,604.55 L2029.97,604.55 L2031.19,614.21 L2036.66,615.99 L2043.33,608.90 L2051.85,615.09 L2047.17,623.62 L2050.55,628.27 L2060.11,626.46 L2063.37,636.47 L2054.56,640.62 L2054.56,646.38 L2063.37,650.53 L2060.11,660.54 L2050.55,658.73 L2047.17,663.38 L2051.85,671.91 L2043.33,678.10 L2036.66,671.01 L2031.19,672.79 L2029.97,682.45 L2019.43,682.45 L2018.21,672.79 L2012.74,671.01 L2006.07,678.10 L1997.55,671.91 L2002.23,663.38 L1998.85,658.73 L1989.29,660.54 L1986.03,650.53 L1994.84,646.38 L1994.84,640.62 L1986.03,636.47 L1989.29,626.46 L1998.85,628.27 L2002.23,623.62 L1997.55,615.09 L2006.07,608.90 L2012.74,615.99 Z M2043.40,643.50 A18.7,18.7 0 1 0 2006.00,643.50 A18.7,18.7 0 1 0 2043.40,643.50 Z" fill="#69a143" fill-rule="evenodd"/>
<path d="M2077.19,645.97 L2077.85,638.36 L2085.55,638.36 L2086.21,645.97 L2090.53,647.38 L2095.54,641.60 L2101.77,646.13 L2097.83,652.68 L2100.49,656.35 L2107.94,654.63 L2110.32,661.95 L2103.28,664.93 L2103.28,669.47 L2110.32,672.45 L2107.94,679.77 L2100.49,678.05 L2097.83,681.72 L2101.77,688.27 L2095.54,692.80 L2090.53,687.02 L2086.21,688.43 L2085.55,696.04 L2077.85,696.04 L2077.19,688.43 L2072.87,687.02 L2067.86,692.80 L2061.63,688.27 L2065.57,681.72 L2062.91,678.05 L2055.46,679.77 L2053.08,672.45 L2060.12,669.47 L2060.12,664.93 L2053.08,661.95 L2055.46,654.63 L2062.91,656.35 L2065.57,652.68 L2061.63,646.13 L2067.86,641.60 L2072.87,647.38 Z M2094.80,667.20 A13.1,13.1 0 1 0 2068.60,667.20 A13.1,13.1 0 1 0 2094.80,667.20 Z" fill="#69a143" fill-rule="evenodd"/>
<g transform="translate(270,2565) scale(0.14778)">
<polygon points="62,975 730,1272 1570,938 1570,905 730,1215 62,940" fill="#2c55ad" />
<polygon points="62,945 730,1215 1570,880 1420,818 1420,840 205,892" fill="#d6e7f8" />
<polygon points="62,945 730,1215 730,1243 62,975" fill="#9dc3ea" />
<polygon points="730,1215 1570,880 1570,915 730,1243" fill="#c3dbf3" />
<polygon points="115,880 745,1140 1505,835 1420,800 1420,830 205,845" fill="#d6e7f8" />
<polygon points="115,880 745,1140 745,1178 115,915" fill="#8fbae6" />
<polygon points="745,1140 1505,835 1505,868 745,1178" fill="#bdd7f1" />
<polygon points="690,1060 930,1060 1420,860 1420,830 690,1020" fill="#b9d5f0" />
<polygon points="205,590 680,780 680,1065 205,885" fill="#79abde" />
<polygon points="680,780 1420,490 1420,835 680,1105" fill="#aecdee" />
<polygon points="850,715 1270,550 1270,890 850,1040" fill="#cfe2f6" />
<polygon points="866,730 1262,575 1262,872 866,1022" fill="#a9c9ec" />
<path d="M710,775 L828,775 V1055 L710,1055 Z" fill="#a8caee"/>
<rect x="730" y="805" width="9" height="210" fill="#8fb9e6"/>
<rect x="761" y="805" width="9" height="210" fill="#8fb9e6"/>
<rect x="792" y="805" width="9" height="210" fill="#8fb9e6"/>
<ellipse cx="769.0" cy="770" rx="69.0" ry="28" fill="#b9d5f0"/>
<ellipse cx="769.0" cy="1045" rx="69.0" ry="26" fill="#b2d0ef"/>
<ellipse cx="769.0" cy="1073" rx="77.0" ry="30" fill="#a3c6ec"/>
<path d="M1285,535 L1402,535 V820 L1285,820 Z" fill="#a8caee"/>
<rect x="1305" y="565" width="9" height="215" fill="#8fb9e6"/>
<rect x="1336" y="565" width="9" height="215" fill="#8fb9e6"/>
<rect x="1367" y="565" width="9" height="215" fill="#8fb9e6"/>
<ellipse cx="1343.5" cy="530" rx="68.5" ry="28" fill="#b9d5f0"/>
<ellipse cx="1343.5" cy="810" rx="68.5" ry="26" fill="#b2d0ef"/>
<ellipse cx="1343.5" cy="838" rx="76.5" ry="30" fill="#a3c6ec"/>
<polygon points="145,535 670,745 670,782 145,572" fill="#a5c8ed" />
<polygon points="670,745 1450,425 1450,465 670,782" fill="#cde1f6" />
<polygon points="180,468 675,665 675,747 180,540" fill="#80b0e1" />
<polygon points="675,665 1415,370 1415,442 675,747" fill="#8ab6e4" />
<polygon points="145,435 660,640 1475,310 1475,332 660,668 145,458" fill="#d6e7f8" />
<polygon points="145,435 205,390 560,145 1055,345 660,640" fill="#b9d5f0" />
<polygon points="560,145 940,92 1475,310 1055,345" fill="#d2e5f8" />
<polygon points="660,640 1055,345 1475,310" fill="#d2e5f8" />
<polygon points="800,590 1062,358 1395,343" fill="#9fc4ec" />
<polygon points="205,380 385,305 417,320 240,395" fill="#d9e9f9" />
<polygon points="240,395 417,320 417,350 240,435" fill="#86b2c8" />
<polygon points="205,380 240,395 240,435 205,418" fill="#b5d3ef" />
<polygon points="765,150 945,75 977,90 800,165" fill="#d9e9f9" />
<polygon points="800,165 977,90 977,120 800,205" fill="#86b2c8" />
<polygon points="765,150 800,165 800,205 765,188" fill="#b5d3ef" />
<polygon points="620,545 800,473 835,487 655,560" fill="#d9e9f9" />
<polygon points="655,560 835,487 835,510 655,595" fill="#cfe2f6" />
<polygon points="620,545 655,560 655,595 620,580" fill="#9dc3ea" />
<polygon points="1180,325 1360,253 1395,267 1215,340" fill="#d9e9f9" />
<polygon points="1215,340 1395,267 1395,290 1215,375" fill="#cfe2f6" />
<polygon points="1180,325 1215,340 1215,375 1180,360" fill="#9dc3ea" />
<text transform="translate(912,618) rotate(-21.5) skewX(-20)" font-size="68" font-weight="bold" fill="#e6f1fb" letter-spacing="22">BANK</text>
<text transform="translate(1038,452) matrix(1,-0.38,0,1,0,0)" font-size="84" font-weight="bold" fill="#e6f1fb">$</text>
<ellipse cx="1092" cy="805" rx="155" ry="122" fill="#8f8f9c" transform="rotate(-18 1092 805)"/>
<ellipse cx="1105" cy="808" rx="140" ry="112" fill="#b0b0ba" transform="rotate(-18 1105 808)"/>
<ellipse cx="1125" cy="822" rx="100" ry="80" fill="#9b9ba7" transform="rotate(-18 1125 822)"/>
<ellipse cx="1135" cy="828" rx="88" ry="70" fill="#b4b4be" transform="rotate(-18 1135 828)"/>
<polygon points="1105,790 1240,825 1230,875 1105,840" fill="#e18f3e" />
<ellipse cx="1325" cy="905" rx="120" ry="78" fill="#e18f3e" transform="rotate(22 1325 905)"/>
<ellipse cx="1375" cy="925" rx="22" ry="30" fill="#c9d9ee" transform="rotate(22 1375 925)"/>
<ellipse cx="1365" cy="1000" rx="48" ry="70" fill="none" stroke="#f0a44d" stroke-width="12" transform="rotate(15 1365 1000)"/>
<polygon points="1255,1075 1350,1032 1478,1140 1442,1160 1442,1222 1300,1180 1300,1105" fill="#f6b455" />
<polygon points="1442,1160 1478,1140 1478,1150 1442,1222" fill="#e29a3c" />
<polygon points="1325,1112 1353,1121 1353,1144 1325,1135" fill="#fbe0b0" />
<polygon points="1362,1124 1390,1133 1390,1156 1362,1147" fill="#fbe0b0" />
<polygon points="1325,1145 1353,1154 1353,1177 1325,1168" fill="#fbe0b0" />
<polygon points="1362,1157 1390,1166 1390,1189 1362,1180" fill="#fbe0b0" />
</g>
<g transform="translate(880,2565) scale(0.15086)">
<polygon points="355,250 610,350 610,480 355,380" fill="#52b583" stroke="#bfe5a6" stroke-width="4"/>
<polygon points="610,350 1065,165 1065,295 610,480" fill="#3ea678" stroke="#bfe5a6" stroke-width="4"/>
<polygon points="355,250 810,65 1065,165 610,350" fill="#1aab74" stroke="#bfe5a6" stroke-width="7" stroke-linejoin="round"/>
<ellipse cx="708" cy="203" rx="132" ry="55" fill="#bfe5a6" transform="rotate(0 708 203)"/>
<text transform="translate(708,203) matrix(0.93,0.37,-0.93,0.37,0,0)" font-size="130" font-weight="bold" fill="#1aab74" text-anchor="middle" y="45">$</text>
<polygon points="630,355 880,460 880,590 630,485" fill="#52b583" stroke="#bfe5a6" stroke-width="4"/>
<polygon points="880,460 1340,275 1340,405 880,590" fill="#3ea678" stroke="#bfe5a6" stroke-width="4"/>
<polygon points="630,355 1085,175 1340,275 880,460" fill="#1aab74" stroke="#bfe5a6" stroke-width="7" stroke-linejoin="round"/>
<ellipse cx="945" cy="312" rx="98" ry="48" fill="#bfe5a6" transform="rotate(0 945 312)"/>
<polygon points="55,455 580,670 580,770 55,555" fill="#52b583" stroke="#bfe5a6" stroke-width="4"/>
<polygon points="580,670 860,555 860,655 580,770" fill="#3ea678" stroke="#bfe5a6" stroke-width="4"/>
<polygon points="55,455 335,340 860,555 580,670" fill="#1aab74" stroke="#bfe5a6" stroke-width="7" stroke-linejoin="round"/>
<ellipse cx="455" cy="498" rx="148" ry="60" fill="#bfe5a6" transform="rotate(0 455 498)"/>
<text transform="translate(455,498) matrix(0.93,-0.37,0.93,0.37,0,0)" font-size="140" font-weight="bold" fill="#1aab74" text-anchor="middle" y="48">$</text>
<polygon points="795,530 1300,325 1440,380 935,585" fill="#52b583" stroke="#bfe5a6" stroke-width="4"/>
<polygon points="795,530 935,585 940,802 800,742" fill="#3ea678" stroke="#bfe5a6" stroke-width="4"/>
<line x1="812.5" y1="536.9" x2="813.5" y2="749.5" stroke="#bfe5a6" stroke-width="5" />
<line x1="830.0" y1="543.8" x2="831.0" y2="757.0" stroke="#bfe5a6" stroke-width="5" />
<line x1="847.5" y1="550.7" x2="848.5" y2="764.5" stroke="#bfe5a6" stroke-width="5" />
<line x1="865.0" y1="557.6" x2="866.0" y2="772.0" stroke="#bfe5a6" stroke-width="5" />
<line x1="882.5" y1="564.5" x2="883.5" y2="779.5" stroke="#bfe5a6" stroke-width="5" />
<line x1="900.0" y1="571.4" x2="901.0" y2="787.0" stroke="#bfe5a6" stroke-width="5" />
<line x1="917.5" y1="578.3" x2="918.5" y2="794.5" stroke="#bfe5a6" stroke-width="5" />
<polygon points="935,585 1440,380 1450,590 940,802" fill="#1aab74" stroke="#bfe5a6" stroke-width="8" stroke-linejoin="round"/>
<ellipse cx="1192" cy="595" rx="112" ry="88" fill="#bfe5a6" transform="rotate(-28 1192 595)"/>
<text transform="translate(1192,595) matrix(1,-0.4,0.05,1,0,0)" font-size="175" font-weight="bold" fill="#1aab74" text-anchor="middle" y="58">$</text>
<path d="M898,262 v28 a135,62 0 0 0 270,0 v-28 Z" fill="#e5872e"/>
<ellipse cx="1033" cy="262" rx="135" ry="62" fill="#f4a040"/>
<ellipse cx="1033" cy="262" rx="108" ry="48" fill="#f2993a"/>
<text transform="translate(1033,262) matrix(0.9,0.35,-1.2,0.45,0,0)" font-size="95" font-weight="bold" fill="#f7b558" text-anchor="middle" y="32">$</text>
<path d="M1287,668 v32 a135,60 0 0 0 270,0 v-32 Z" fill="#e5872e"/>
<ellipse cx="1422" cy="668" rx="135" ry="60" fill="#f4a040"/>
<ellipse cx="1422" cy="668" rx="108" ry="47" fill="#f2993a"/>
<text transform="translate(1422,668) matrix(0.9,0.35,-1.2,0.45,0,0)" font-size="95" font-weight="bold" fill="#f7b558" text-anchor="middle" y="32">$</text>
<path d="M573,828 v16 a135,58 0 0 0 270,0 v-16 Z" fill="#e5872e"/>
<ellipse cx="708" cy="828" rx="135" ry="58" fill="#f4a040"/>
<ellipse cx="708" cy="828" rx="108" ry="45" fill="#f2993a"/>
<text transform="translate(708,828) matrix(0.9,0.35,-1.2,0.45,0,0)" font-size="95" font-weight="bold" fill="#f7b558" text-anchor="middle" y="32">$</text>
<path d="M1008,818 v16 a135,58 0 0 0 270,0 v-16 Z" fill="#e5872e"/>
<ellipse cx="1143" cy="818" rx="135" ry="58" fill="#f4a040"/>
<ellipse cx="1143" cy="818" rx="108" ry="45" fill="#f2993a"/>
<text transform="translate(1143,818) matrix(0.9,0.35,-1.2,0.45,0,0)" font-size="95" font-weight="bold" fill="#f7b558" text-anchor="middle" y="32">$</text>
</g>
<g transform="translate(540,3060) scale(0.38177)">
<ellipse cx="810" cy="458" rx="772" ry="405" fill="#d4d4d4"/>
<path d="M1483.9,532.5 A735,333 0 0 1 658.4,709.3 v138 A735,333 0 0 0 1483.9,670.5 Z" fill="#9a7338"/>
<path d="M658.4,709.3 A735,333 0 0 1 93.6,418.1 v138 A735,333 0 0 0 658.4,847.3 Z" fill="#12301b"/>
<path d="M362.0,372.0 A464,217 0 0 1 534.0,203.4 v110 A464,217 0 0 0 362.0,482.0 Z" fill="#7c2e2b"/>
<path d="M524.0,207.2 A464,217 0 0 1 1178.3,230.8 v110 A464,217 0 0 0 524.0,317.2 Z" fill="#10283a"/>
<path d="M1165.3,224.0 A464,217 0 0 1 1262.0,446.2 v110 A464,217 0 0 0 1165.3,334.0 Z" fill="#336b7a"/>
<path d="M90.0,385.0 A735,333 0 0 1 362.4,126.2 L534.0,203.4 A464,217 0 0 0 362.0,372.0 Z" fill="#e55b50"/>
<path d="M362.4,126.2 A735,333 0 0 1 1363.4,158.3 L1165.9,224.3 A464,217 0 0 0 534.0,203.4 Z" fill="#1f4a5f"/>
<path d="M1363.4,158.3 A735,333 0 0 1 1513.0,502.2 L1260.3,448.3 A464,217 0 0 0 1165.9,224.3 Z" fill="#5cc3d5"/>
<path d="M1483.9,532.5 A735,333 0 0 1 658.4,709.3 L720.8,583.4 A464,217 0 0 0 1242.0,468.1 Z" fill="#fdbc5f"/>
<path d="M658.4,709.3 A735,333 0 0 1 93.6,418.1 L364.3,393.6 A464,217 0 0 0 720.8,583.4 Z" fill="#12602f"/>
<ellipse cx="822" cy="410" rx="441" ry="178" fill="#cfa227"/>
<rect x="381" y="385" width="882" height="25" fill="#cfa227"/>
<path d="M1261.3,400.5 v25 M1260.2,404.9 v25 M1258.9,409.3 v25 M1257.2,413.7 v25 M1255.3,418.1 v25 M1253.1,422.4 v25 M1250.7,426.8 v25 M1248.0,431.1 v25 M1245.0,435.3 v25 M1241.8,439.6 v25 M1238.3,443.8 v25 M1234.5,448.0 v25 M1230.5,452.1 v25 M1226.2,456.2 v25 M1221.7,460.2 v25 M1216.9,464.2 v25 M1211.9,468.2 v25 M1206.6,472.1 v25 M1201.1,475.9 v25 M1195.4,479.7 v25 M1189.4,483.4 v25 M1183.2,487.1 v25 M1176.8,490.7 v25 M1170.2,494.2 v25 M1163.3,497.7 v25 M1156.3,501.1 v25 M1149.0,504.4 v25 M1141.5,507.7 v25 M1133.8,510.9 v25 M1126.0,514.0 v25 M1117.9,517.0 v25 M1109.7,519.9 v25 M1101.2,522.8 v25 M1092.6,525.5 v25 M1083.9,528.2 v25 M1074.9,530.8 v25 M1065.9,533.3 v25 M1056.6,535.7 v25 M1047.2,538.0 v25 M1037.7,540.3 v25 M1028.1,542.4 v25 M1018.3,544.4 v25 M1008.4,546.3 v25 M998.4,548.1 v25 M988.2,549.9 v25 M978.0,551.5 v25 M967.7,553.0 v25 M957.2,554.4 v25 M946.7,555.7 v25 M936.1,556.9 v25 M925.5,558.0 v25 M914.8,559.0 v25 M904.0,559.9 v25 M893.2,560.7 v25 M882.3,561.3 v25 M871.4,561.9 v25 M860.4,562.3 v25 M849.5,562.7 v25 M838.5,562.9 v25 M827.5,563.0 v25 M816.5,563.0 v25 M805.5,562.9 v25 M794.5,562.7 v25 M783.6,562.3 v25 M772.6,561.9 v25 M761.7,561.3 v25 M750.8,560.7 v25 M740.0,559.9 v25 M729.2,559.0 v25 M718.5,558.0 v25 M707.9,556.9 v25 M697.3,555.7 v25 M686.8,554.4 v25 M676.3,553.0 v25 M666.0,551.5 v25 M655.8,549.9 v25 M645.6,548.1 v25 M635.6,546.3 v25 M625.7,544.4 v25 M615.9,542.4 v25 M606.3,540.3 v25 M596.8,538.0 v25 M587.4,535.7 v25 M578.1,533.3 v25 M569.1,530.8 v25 M560.1,528.2 v25 M551.4,525.5 v25 M542.8,522.8 v25 M534.3,519.9 v25 M526.1,517.0 v25 M518.0,514.0 v25 M510.2,510.9 v25 M502.5,507.7 v25 M495.0,504.4 v25 M487.7,501.1 v25 M480.7,497.7 v25 M473.8,494.2 v25 M467.2,490.7 v25 M460.8,487.1 v25 M454.6,483.4 v25 M448.6,479.7 v25 M442.9,475.9 v25 M437.4,472.1 v25 M432.1,468.2 v25 M427.1,464.2 v25 M422.3,460.2 v25 M417.8,456.2 v25 M413.5,452.1 v25 M409.5,448.0 v25 M405.7,443.8 v25 M402.2,439.6 v25 M399.0,435.3 v25 M396.0,431.1 v25 M393.3,426.8 v25 M390.9,422.4 v25 M388.7,418.1 v25 M386.8,413.7 v25 M385.1,409.3 v25 M383.8,404.9 v25 M382.7,400.5 v25 " stroke="#e3bb38" stroke-width="4" fill="none"/>
<ellipse cx="822" cy="385" rx="441" ry="178" fill="#f2d730"/>
<ellipse cx="822" cy="385" rx="395" ry="158" fill="none" stroke="#f8e355" stroke-width="14"/>
<ellipse cx="822" cy="385" rx="380" ry="150" fill="none" stroke="#e0bf2a" stroke-width="3"/>
<text transform="translate(822,385) matrix(0.64,0.307,-0.768,0.256,0,0)" font-size="800" font-weight="bold" fill="#dfba25" text-anchor="middle" y="268">$</text>
</g>
</svg>
</body>
</html>
